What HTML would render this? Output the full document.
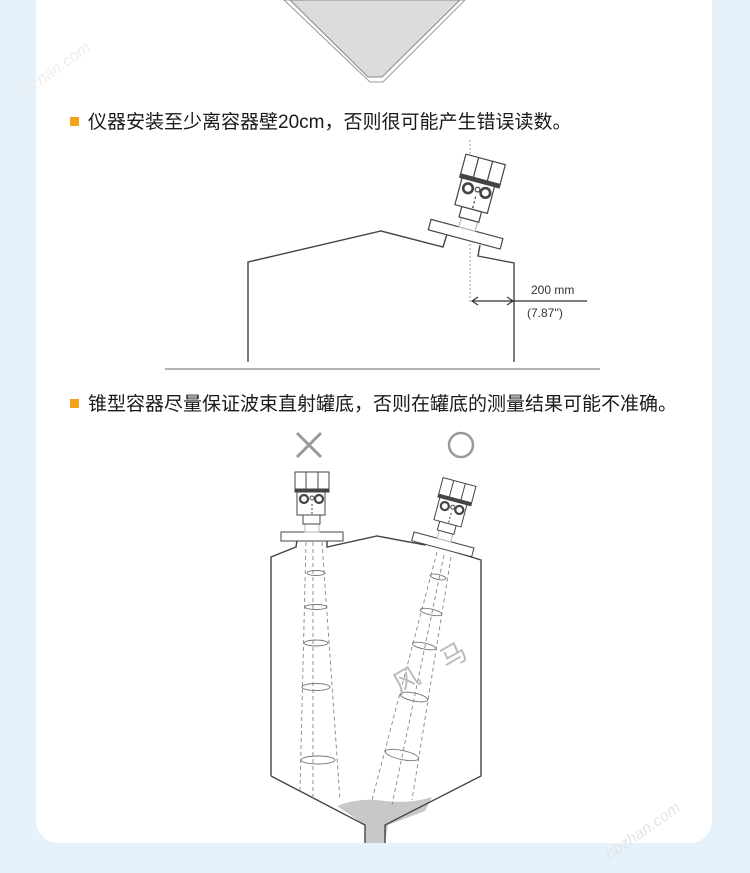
<!DOCTYPE html>
<html><head><meta charset="utf-8"><style>
html,body{margin:0;padding:0;background:#e6f2fb;}
body{width:750px;height:873px;position:relative;overflow:hidden;font-family:"Liberation Sans","Noto Sans CJK SC",sans-serif;}
.card{position:absolute;left:36px;top:-20px;width:676px;height:863px;background:#fff;border-radius:0 0 22px 22px;}
.t{position:absolute;left:70px;font-size:19px;color:#1a1a1a;white-space:nowrap;line-height:22px;}
.t span{display:inline-block;width:9px;height:9px;background:#f5a21b;margin-right:9px;vertical-align:2px;}
svg{position:absolute;left:0;top:0;}
</style></head><body>
<div class="card"></div>
<div class="t" style="top:112px"><span></span>仪器安装至少离容器壁20cm，否则很可能产生错误读数。</div>
<div class="t" style="top:394px"><span></span>锥型容器尽量保证波束直射罐底，否则在罐底的测量结果可能不准确。</div>
<svg width="750" height="873" viewBox="0 0 750 873">
<defs>
<g id="inst" fill="#fff" stroke="#444" stroke-width="1">
<rect x="-31" y="0" width="62" height="9"/>
<rect x="-7" y="-8" width="14" height="8" stroke="#bbb"/>
<rect x="-9" y="-17" width="17" height="9"/>
<rect x="-15" y="-42" width="28" height="25"/>
<rect x="-17" y="-60" width="34" height="18"/>
<line x1="-6" y1="-60" x2="-6" y2="-42"/><line x1="6" y1="-60" x2="6" y2="-42"/>
<rect x="-17" y="-43" width="34" height="3" fill="#444"/>
<circle cx="-8" cy="-33" r="4" stroke-width="2.2"/><circle cx="7" cy="-33" r="4" stroke-width="2.2"/><circle cx="0" cy="-34" r="2"/>
<line x1="0" y1="-28" x2="0" y2="-17" stroke-dasharray="2 2"/>
</g>
</defs>
<polygon points="284,0 370,82 383,82 465,0" fill="#fff" stroke="#999" stroke-width="1"/>
<polygon points="290,0 368,77 382,77 460,0" fill="#dcdcdc" stroke="#888" stroke-width="1"/>
<line x1="165" y1="369" x2="600" y2="369" stroke="#888" stroke-width="1.2"/>
<polyline points="248,362 248,262 381,231 443,247 448,231" fill="none" stroke="#444" stroke-width="1.4"/>
<polyline points="480,245 478,256 514,263 514,362" fill="none" stroke="#444" stroke-width="1.4"/>
<line x1="470" y1="140" x2="470" y2="302" stroke="#999" stroke-dasharray="2 2"/>
<g transform="translate(467,229) rotate(15) scale(1.2)"><use href="#inst"/></g>
<line x1="472" y1="301" x2="587" y2="301" stroke="#333" stroke-width="1.2"/>
<polyline points="478,297 472,301 478,305" fill="none" stroke="#333" stroke-width="1.2"/>
<polyline points="507,297 513,301 507,305" fill="none" stroke="#333" stroke-width="1.2"/>
<text x="531" y="294" font-size="12" fill="#333" font-family="Liberation Sans">200 mm</text>
<text x="527" y="317" font-size="12" fill="#333" font-family="Liberation Sans">(7.87'')</text>
<path d="M297,433 L321,457 M321,433 L297,457" stroke="#999" stroke-width="3"/>
<circle cx="461" cy="445" r="12" fill="none" stroke="#999" stroke-width="2.5"/>
<path d="M337,806 Q360,797 385,801 Q410,804 432,797 L425,811 L388,825 L385,843 L365,843 L365,825 Z" fill="#c8c8c8"/>
<polyline points="271,776 271,557 296,547 297,540" fill="none" stroke="#444" stroke-width="1.4"/>
<polyline points="327,540 327,547 377,536 425,545 427,538" fill="none" stroke="#444" stroke-width="1.4"/>
<polyline points="455,546 455,552 481,560 481,776 385,825 385,843" fill="none" stroke="#444" stroke-width="1.4"/>
<polyline points="271,776 365,825 365,843" fill="none" stroke="#444" stroke-width="1.4"/>
<use href="#inst" transform="translate(312,532)"/>
<g transform="translate(444,540) rotate(15)"><use href="#inst"/></g>
<g stroke="#888" stroke-width="0.9" fill="none" stroke-dasharray="4 3">
<line x1="306" y1="542" x2="300" y2="790"/><line x1="313" y1="542" x2="313" y2="798"/><line x1="322" y1="542" x2="340" y2="800"/>
<line x1="437" y1="552" x2="372" y2="800"/><line x1="444" y1="555" x2="392" y2="805"/><line x1="451" y1="557" x2="412" y2="800"/>
</g>
<g stroke="#777" stroke-width="0.9" fill="none">
<ellipse cx="316" cy="573" rx="9" ry="2.5"/><ellipse cx="316" cy="607" rx="11" ry="2.5"/><ellipse cx="316" cy="643" rx="12" ry="3"/><ellipse cx="316" cy="687" rx="14" ry="3.5"/><ellipse cx="318" cy="760" rx="17" ry="4"/>
<ellipse cx="438" cy="577" rx="8" ry="2.5" transform="rotate(12 438 577)"/><ellipse cx="431" cy="612" rx="11" ry="3" transform="rotate(12 431 612)"/><ellipse cx="424" cy="646" rx="12" ry="3" transform="rotate(12 424 646)"/><ellipse cx="414" cy="697" rx="14" ry="4" transform="rotate(12 414 697)"/><ellipse cx="402" cy="755" rx="17" ry="4.5" transform="rotate(12 402 755)"/>
</g>
<text x="393" y="690" font-size="26" fill="#bbb" transform="rotate(-30 405 680)" font-family="Noto Sans CJK SC">风</text>
<text x="440" y="665" font-size="26" fill="#bbb" transform="rotate(-30 452 655)" font-family="Noto Sans CJK SC">马</text>
<text x="20" y="100" font-size="16" fill="#eee" transform="rotate(-35 20 100)" font-style="italic">hbzhan.com</text>
<text x="610" y="860" font-size="16" fill="#e4e4e4" transform="rotate(-35 610 860)" font-style="italic">hbzhan.com</text>
</svg>
</body></html>
